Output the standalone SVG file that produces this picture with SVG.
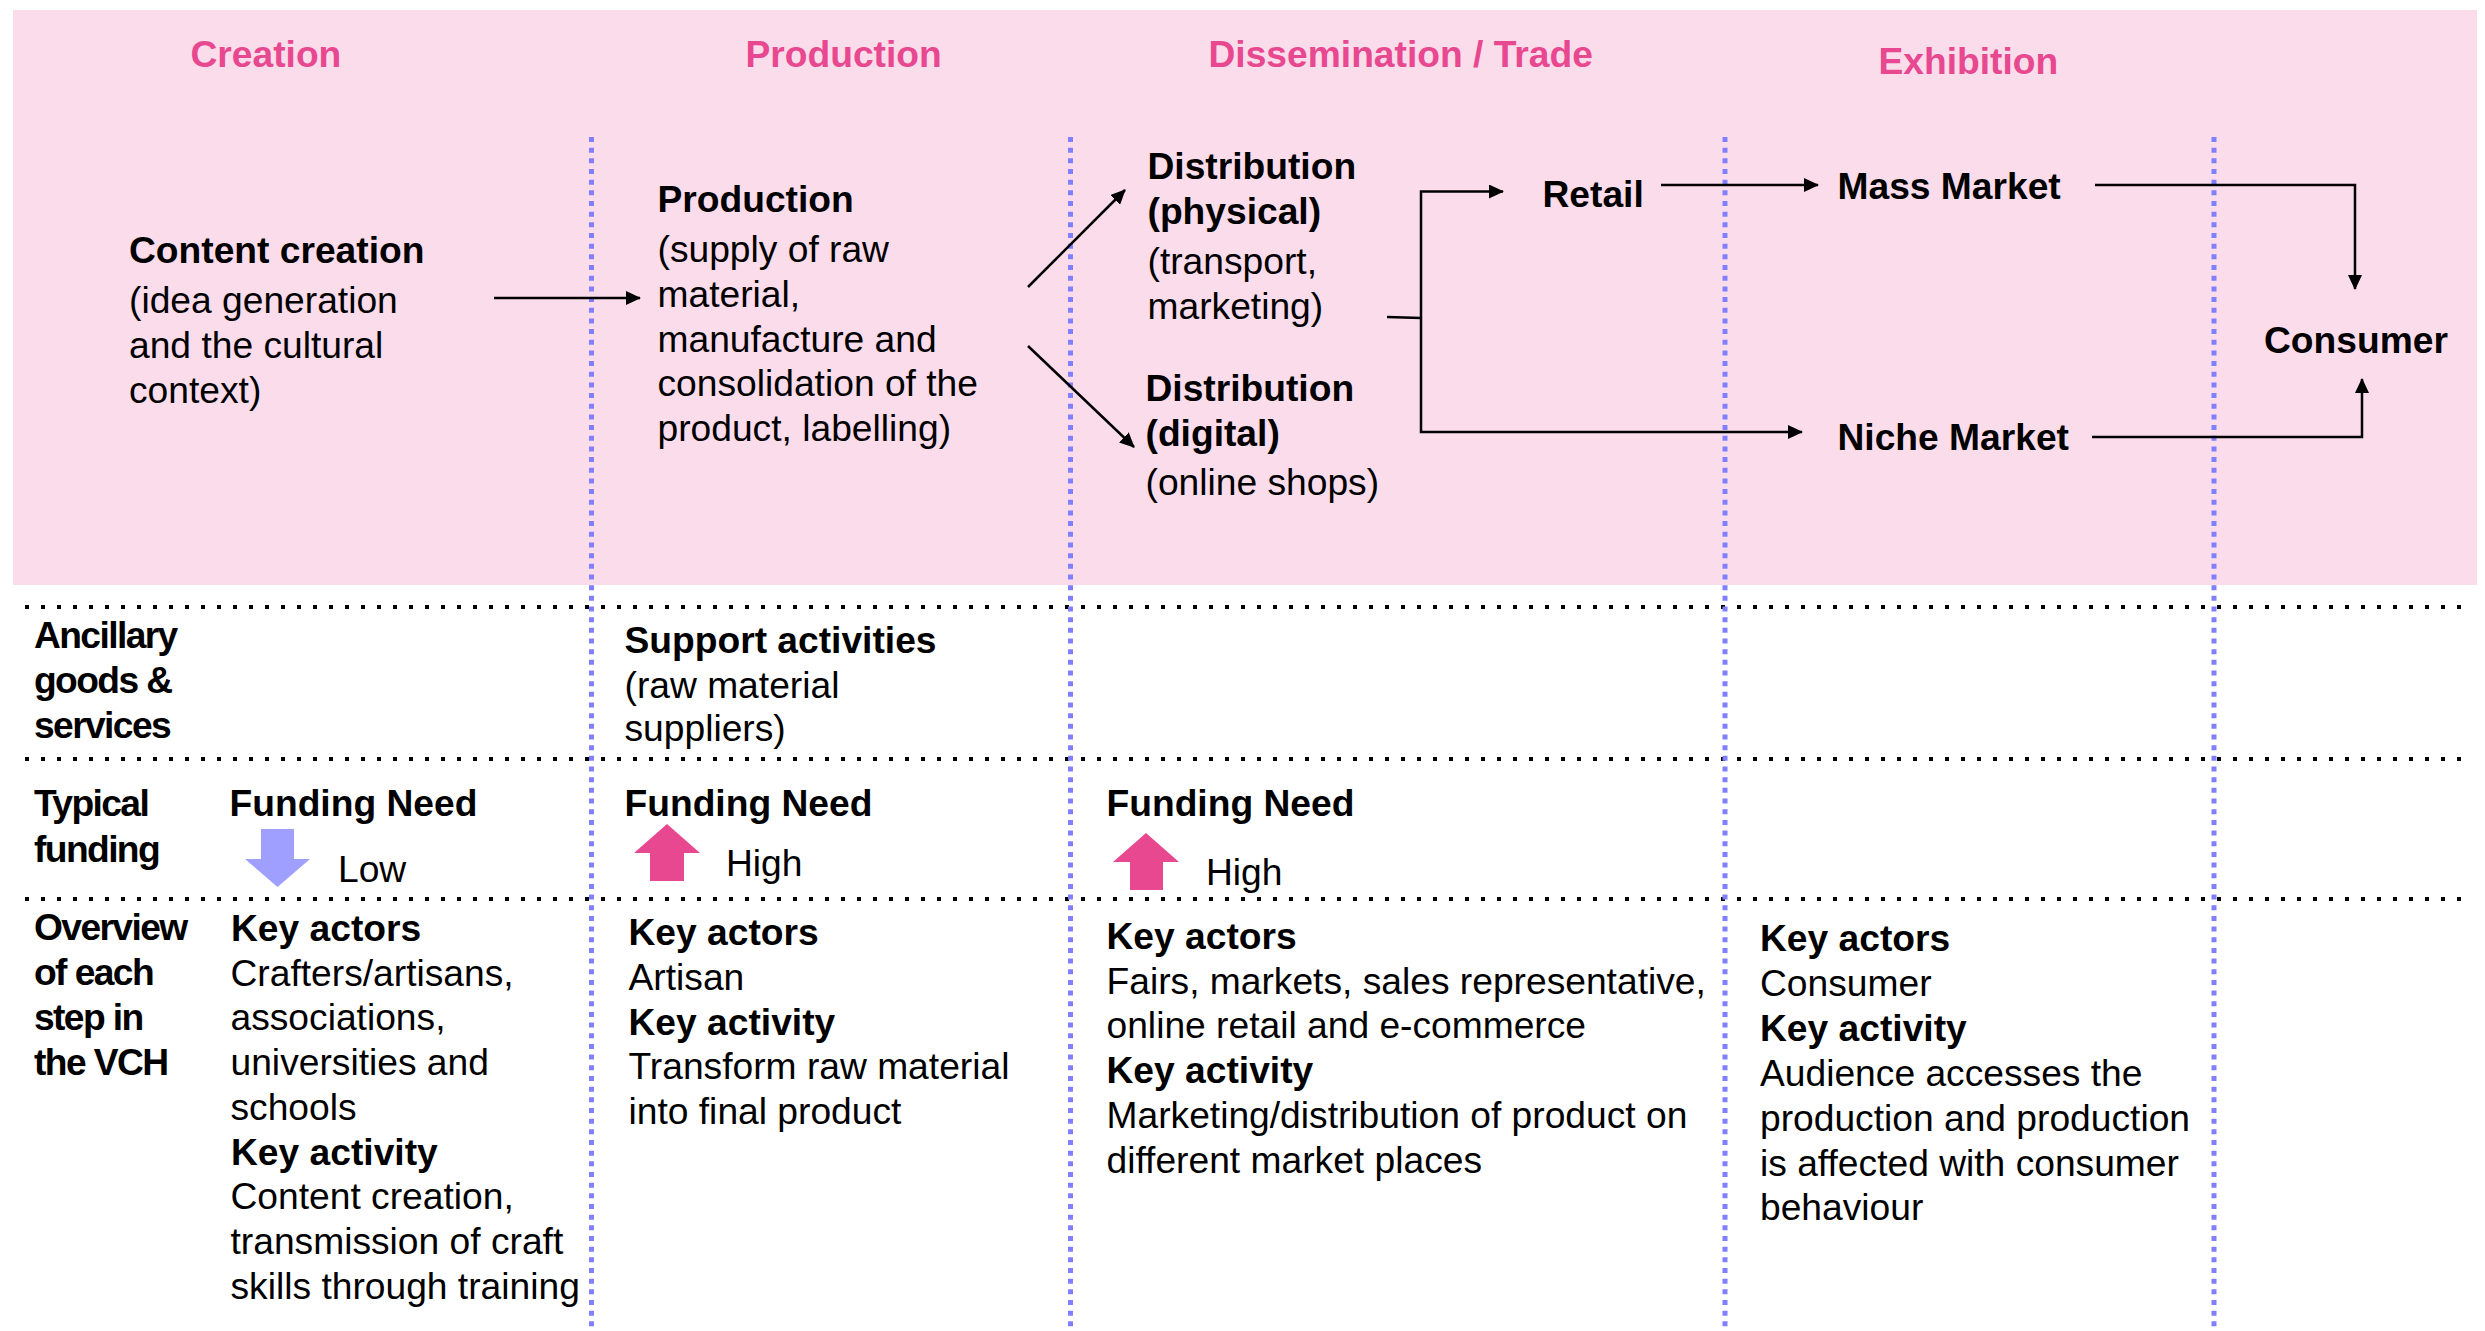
<svg xmlns="http://www.w3.org/2000/svg" width="2485" height="1331" viewBox="0 0 2485 1331">
<style>
text{font-family:"Liberation Sans",Arial,sans-serif;font-size:37.2px;fill:#000}
.b{font-weight:bold}
.h{font-weight:bold;fill:#E8488F}
.t{letter-spacing:-1.6px}
.v{stroke:#8080FF;stroke-width:5;stroke-dasharray:5 5.67;fill:none}
.d{stroke:#000;stroke-width:4;stroke-dasharray:4 12;fill:none}
.c{stroke:#000;stroke-width:2.5;fill:none;marker-end:url(#a)}
.n{stroke:#000;stroke-width:2.5;fill:none}
</style>
<defs><marker id="a" markerUnits="userSpaceOnUse" markerWidth="16" markerHeight="14" refX="14" refY="7" orient="auto"><path d="M0 0L15 7L0 14Z" fill="#000"/></marker></defs>
<rect id="band" x="13" y="10" width="2464" height="575" fill="#FBDCEB"/>
<g id="grid">
<path class="d" d="M25 607H2462M25 759H2462M25 899H2462"/>
<path class="v" d="M591.500 137V1331M1070.500 137V1331M1725 137V1331M2214 137V1331"/>
</g>
<g id="connectors">
<path class="c" d="M494 298H640"/>
<path class="c" d="M1028 287L1125 190"/>
<path class="c" d="M1028 346L1134 447"/>
<path class="n" d="M1387 317L1421 318"/>
<path class="c" d="M1421 318V191.500H1503"/>
<path class="c" d="M1421 318V432H1802"/>
<path class="c" d="M1661 185H1818"/>
<path class="c" d="M2095 185H2355V289"/>
<path class="c" d="M2092 437H2362V379"/>
</g>
<g id="headers">
<text class="h" x="190.500" y="67">Creation</text>
<text class="h" x="745.500" y="67">Production</text>
<text class="h" x="1208.500" y="67">Dissemination / Trade</text>
<text class="h" x="1878.500" y="74">Exhibition</text>
</g>
<g id="node-content"><text class="b" x="129" y="263">Content creation</text><text x="129" y="312.500">(idea generation</text><text x="129" y="358">and the cultural</text><text x="129" y="402.500">context)</text></g>
<g id="node-production"><text class="b" x="657.500" y="212">Production</text><text x="657.500" y="261.500">(supply of raw</text><text x="657.500" y="306.500">material,</text><text x="657.500" y="351.500">manufacture and</text><text x="657.500" y="395.500">consolidation of the</text><text x="657.500" y="440.500">product, labelling)</text></g>
<g id="node-physical"><text class="b" x="1147.500" y="179">Distribution</text><text class="b" x="1147.500" y="224">(physical)</text><text x="1147.500" y="274">(transport,</text><text x="1147.500" y="319">marketing)</text></g>
<g id="node-digital"><text class="b" x="1145.500" y="401">Distribution</text><text class="b" x="1145.500" y="446">(digital)</text><text x="1145.500" y="495">(online shops)</text></g>
<g id="node-retail"><text class="b" x="1542.500" y="207">Retail</text></g>
<g id="node-mass"><text class="b" x="1837.500" y="199">Mass Market</text></g>
<g id="node-niche"><text class="b" x="1837.500" y="449.500">Niche Market</text></g>
<g id="node-consumer"><text class="b" x="2264" y="353">Consumer</text></g>
<g id="row-ancillary"><text class="b t" x="34" y="648">Ancillary</text><text class="b t" x="34" y="693">goods &amp;</text><text class="b t" x="34" y="738">services</text><text class="b" x="624.500" y="653">Support activities</text><text x="624.500" y="698">(raw material</text><text x="624.500" y="741">suppliers)</text></g>
<g id="row-funding"><text class="b t" x="34" y="816">Typical</text><text class="b t" x="34" y="862">funding</text>
<text class="b" x="229.500" y="816">Funding Need</text><path d="M261 829H294V859H310L277.500 887L245 859H261Z" fill="#9F9FFF"/><text x="338" y="882">Low</text>
<text class="b" x="624.500" y="816">Funding Need</text><path d="M650 881V853H634L667 824L700 853H684V881Z" fill="#E8488F"/><text x="726" y="876">High</text>
<text class="b" x="1106.500" y="816">Funding Need</text><path d="M1130 890V862H1113L1146 833L1179 862H1163V890Z" fill="#E8488F"/><text x="1206" y="885">High</text></g>
<g id="row-overview"><text class="b t" x="34" y="940">Overview</text><text class="b t" x="34" y="985">of each</text><text class="b t" x="34" y="1030">step in</text><text class="b t" x="34" y="1075">the VCH</text></g>
<g id="col-creation"><text class="b" x="231" y="941">Key actors</text><text x="230.500" y="986">Crafters/artisans,</text><text x="230.500" y="1030">associations,</text><text x="230.500" y="1075">universities and</text><text x="230.500" y="1120">schools</text><text class="b" x="231" y="1165">Key activity</text><text x="230.500" y="1209">Content creation,</text><text x="230.500" y="1254">transmission of craft</text><text x="230.500" y="1299">skills through training</text></g>
<g id="col-production"><text class="b" x="628.500" y="945">Key actors</text><text x="628.500" y="990">Artisan</text><text class="b" x="628.500" y="1035">Key activity</text><text x="628.500" y="1079">Transform raw material</text><text x="628.500" y="1124">into final product</text></g>
<g id="col-dissemination"><text class="b" x="1106.500" y="949">Key actors</text><text x="1106.500" y="994">Fairs, markets, sales representative,</text><text x="1106.500" y="1038">online retail and e-commerce</text><text class="b" x="1106.500" y="1083">Key activity</text><text x="1106.500" y="1128">Marketing/distribution of product on</text><text x="1106.500" y="1173">different market places</text></g>
<g id="col-exhibition"><text class="b" x="1760" y="951">Key actors</text><text x="1760" y="996">Consumer</text><text class="b" x="1760" y="1041">Key activity</text><text x="1760" y="1086">Audience accesses the</text><text x="1760" y="1131">production and production</text><text x="1760" y="1176">is affected with consumer</text><text x="1760" y="1220">behaviour</text></g>
</svg>
